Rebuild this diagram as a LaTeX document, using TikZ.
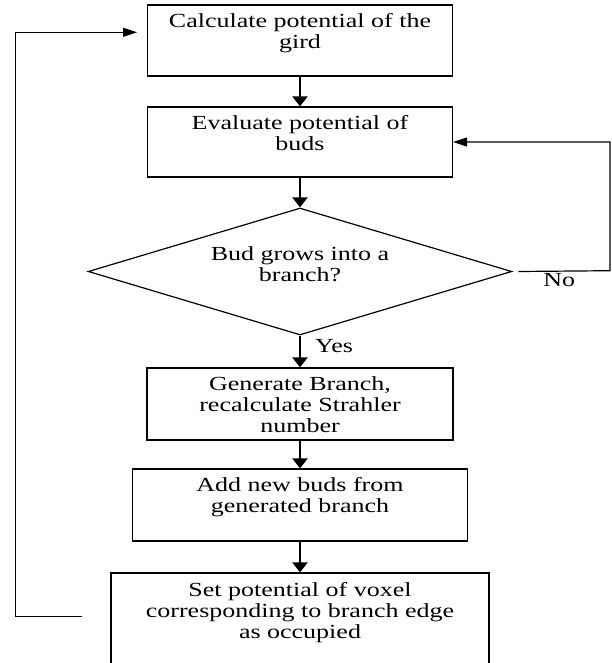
\documentclass[tikz,border=0pt]{standalone}
\usepackage{fontspec}
\setmainfont[FakeStretch=1.3]{Liberation Serif}
\usetikzlibrary{shapes.geometric,arrows.meta}

\begin{document}
\begin{tikzpicture}[x=1pt,y=-1pt,
  stepbox/.style={draw=black,line width=1.2pt,rectangle,inner sep=0pt},
  txt/.style={anchor=north,align=center,inner sep=0pt,font=\fontsize{20}{21}\selectfont},
  flow/.style={line width=2.2pt,-{Triangle[width=15pt,length=10pt]}},
  back/.style={line width=1.2pt,-{Triangle[width=9pt,length=14pt]}}]
\def\cx{300};
\def\gap{9pt};
\useasboundingbox (0,0) rectangle (611,663);
\clip (0,0) rectangle (611,663);
% boxes
\node[stepbox,minimum width=305pt,minimum height=71pt] (calc) at (\cx,40.5) {};
\node[txt] (calct) at ([yshift=-\gap]calc.north) {Calculate potential of the\\gird};
\node[stepbox,minimum width=305pt,minimum height=70pt] (eval) at (\cx,142) {};
\node[txt] (evalt) at ([yshift=-\gap]eval.north) {Evaluate potential of\\buds};
\node[draw=black,line width=1.2pt,diamond,inner sep=0pt,minimum width=423.5pt,minimum height=127pt] (grow) at (\cx,271.5) {};
\node[txt] (growt) at ([yshift=25pt]grow.center) {Bud grows into a\\branch?};
\node[stepbox,minimum width=306pt,minimum height=72pt] (gen) at (\cx,404) {};
\node[txt] (gent) at ([yshift=-\gap]gen.north) {Generate Branch,\\recalculate Strahler\\number};
\node[stepbox,minimum width=335pt,minimum height=72pt] (add) at (\cx,505) {};
\node[txt] (addt) at ([yshift=-\gap]add.north) {Add new buds from\\generated branch};
\node[stepbox,minimum width=378pt,minimum height=110pt] (set) at (\cx,628) {};
\node[txt] (sett) at ([yshift=-10pt]set.north) {Set potential of voxel\\corresponding to branch edge\\as occupied};
% main flow
\draw[flow] (calc) -- (eval);
\draw[flow] (eval) -- (grow);
\draw[flow] (grow) -- node[txt,anchor=west,xshift=14pt,yshift=5pt] (yes) {Yes} (gen);
\draw[flow] (gen) -- (add);
\draw[flow] (add) -- (set);
% loops
\coordinate (noend) at ([xshift=6pt]grow.east);
\coordinate (nocorner) at (610,270.7);
\draw[back] (noend) -- node[txt,below=2pt,xshift=-5pt] (no) {No} (nocorner) |- (eval);
\coordinate (setend) at (82,616.7);
\coordinate (leftcorner) at (15.5,616.7);
\coordinate (calcin) at (137,32.3);
\draw[back] (setend) -- (leftcorner) |- (calcin);
\end{tikzpicture}
\end{document}
